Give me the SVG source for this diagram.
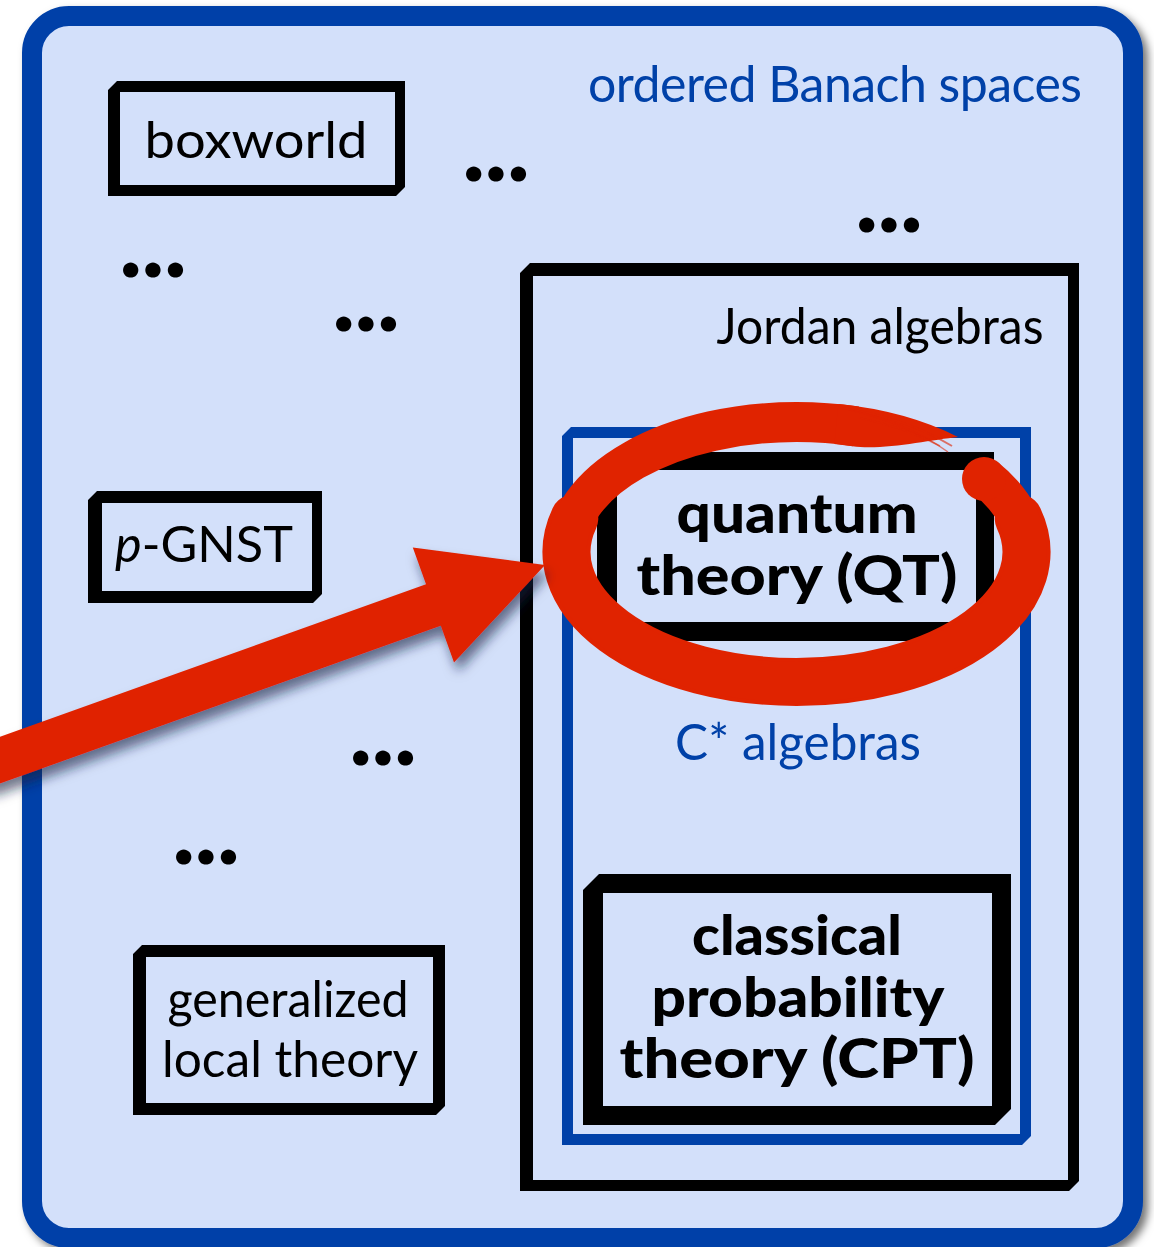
<svg xmlns="http://www.w3.org/2000/svg" width="1154" height="1247" viewBox="0 0 1154 1247">
  <defs>
    <filter id="frameShadow" x="-5%" y="-5%" width="110%" height="110%">
      <feDropShadow dx="5" dy="5" stdDeviation="4" flood-color="#000" flood-opacity="0.55"/>
    </filter>
    <filter id="arrowShadow" x="-10%" y="-20%" width="130%" height="150%">
      <feDropShadow dx="4" dy="9" stdDeviation="6" flood-color="#0a1a40" flood-opacity="0.6"/>
    </filter>
    <style>
      .frame { fill: #000; fill-rule: evenodd; }
      .frame.blue { fill: #0041a8; }
      .lbl { font-family: Lato, "Open Sans", "DejaVu Sans", sans-serif; font-size: 50px; fill: #000; text-anchor: middle; }
      .lbl.blue { fill: #0041a8; }
      .bold { font-weight: 900; font-size: 56px; }
      .dots { font-family: Lato, "DejaVu Sans", sans-serif; font-weight: 900; font-size: 94px; fill: #000; text-anchor: middle; }
      .ring { fill: none; stroke: #e02300; }
      .red { fill: #e02300; }
    </style>
  </defs>

  <rect width="1154" height="1247" fill="#fff"/>

  <!-- outer frame: ordered Banach spaces -->
  <g id="ordered-banach-spaces">
    <rect x="32" y="16" width="1101" height="1222" rx="37" fill="#d3e0fa" stroke="#0041a8" stroke-width="20" filter="url(#frameShadow)"/>
    <text class="lbl blue" x="835" y="102" font-size="47" textLength="494">ordered Banach spaces</text>
  </g>

  <!-- scattered ellipses -->
  <g id="ellipses">
    <text class="dots" x="496" y="181">...</text>
    <text class="dots" x="889" y="232">...</text>
    <text class="dots" x="153" y="277">...</text>
    <text class="dots" x="366" y="331">...</text>
    <text class="dots" x="383" y="765">...</text>
    <text class="dots" x="206" y="864">...</text>
  </g>

  <g id="boxworld">
    <path class="frame" d="M117 81 H405 V187 L396 196 H108 V90 Z M120 92 V185 H395 V92 Z"/>
    <text class="lbl" x="256" y="158" font-size="52" textLength="223" lengthAdjust="spacingAndGlyphs">boxworld</text>
  </g>

  <g id="p-gnst">
    <path class="frame" d="M97 491 H322 V594 L313 603 H88 V500 Z M102 503 V591 H312 V503 Z"/>
    <text class="lbl" x="204" y="562" font-size="52" textLength="178" lengthAdjust="spacingAndGlyphs"><tspan font-style="italic">p</tspan>-GNST</text>
  </g>

  <g id="generalized-local-theory">
    <path class="frame" d="M142 945 H445 V1106 L436 1115 H133 V954 Z M146 957 V1103 H433 V957 Z"/>
    <text class="lbl" x="288" y="1017" textLength="241" lengthAdjust="spacingAndGlyphs">generalized</text>
    <text class="lbl" x="290" y="1077" textLength="256" lengthAdjust="spacingAndGlyphs">local theory</text>
  </g>

  <g id="jordan-algebras">
    <path class="frame" d="M530 263 H1079 V1181 L1069 1191 H520 V273 Z M533 276 V1180 H1068 V276 Z"/>
    <text class="lbl" x="880" y="344" textLength="327" lengthAdjust="spacingAndGlyphs">Jordan algebras</text>
  </g>

  <g id="c-star-algebras">
    <path class="frame blue" d="M571 427 H1031 V1136 L1022 1145 H562 V436 Z M573 438 V1134 H1020 V438 Z"/>
    <text class="lbl blue" x="798" y="760" textLength="246" lengthAdjust="spacingAndGlyphs">C* algebras</text>
  </g>

  <g id="quantum-theory">
    <path class="frame" d="M610 452 H994 V628 L981 641 H597 V465 Z M617 470 V622 H976 V470 Z"/>
    <text class="lbl bold" x="797" y="533" textLength="241" lengthAdjust="spacingAndGlyphs">quantum</text>
    <text class="lbl bold" x="797" y="595" textLength="321" lengthAdjust="spacingAndGlyphs">theory (QT)</text>
  </g>

  <g id="classical-probability-theory">
    <path class="frame" d="M599 874 H1011 V1109 L995 1125 H583 V890 Z M603 893 V1106 H992 V893 Z"/>
    <text class="lbl bold" x="797" y="955" textLength="210" lengthAdjust="spacingAndGlyphs">classical</text>
    <text class="lbl bold" x="798" y="1017" textLength="293" lengthAdjust="spacingAndGlyphs">probability</text>
    <text class="lbl bold" x="797" y="1078" textLength="355" lengthAdjust="spacingAndGlyphs">theory (CPT)</text>
  </g>

  <!-- connectors: highlight ring and pointer -->
  <g id="connectors">
    <g id="highlight-ring">
      <!-- heavier lower half of the brush stroke -->
      <path class="ring" stroke-width="48" stroke-linecap="round" d="M1018.7 518.4 A230 130 0 1 1 574.3 518.4"/>
      <!-- main stroke, starting at the upper right and running clockwise -->
      <path class="ring" stroke-width="40" d="M984.9 477.4 A230 130 0 0 1 796.5 682 A230 130 0 0 1 566.5 552 A230 130 0 0 1 796.5 422 A230 130 0 0 1 856 426.4"/>
      <circle class="red" cx="984" cy="479" r="22"/>
      <!-- tapering tail across the top -->
      <path class="red" d="M838.4 404.1 A250 150 0 0 1 958 437 C930 440 882 450.7 852.5 446.2 L834.4 443.9 Z"/>
      <path class="ring" stroke-width="2" opacity="0.6" d="M820 405 A242 145 0 0 1 952 446"/>
      <path class="ring" stroke-width="1.5" opacity="0.55" d="M850 410 A236 138 0 0 1 948 452"/>
      <path class="ring" stroke-width="1.5" opacity="0.5" d="M860 418 A232 134 0 0 1 940 446"/>
    </g>
    <polygon id="pointer" fill="#e02300" filter="url(#arrowShadow)" points="-27.4,746.6 426,584.3 412.8,547.6 545,565 454,662.4 440.8,625.7 -12.6,788"/>
  </g>
</svg>
